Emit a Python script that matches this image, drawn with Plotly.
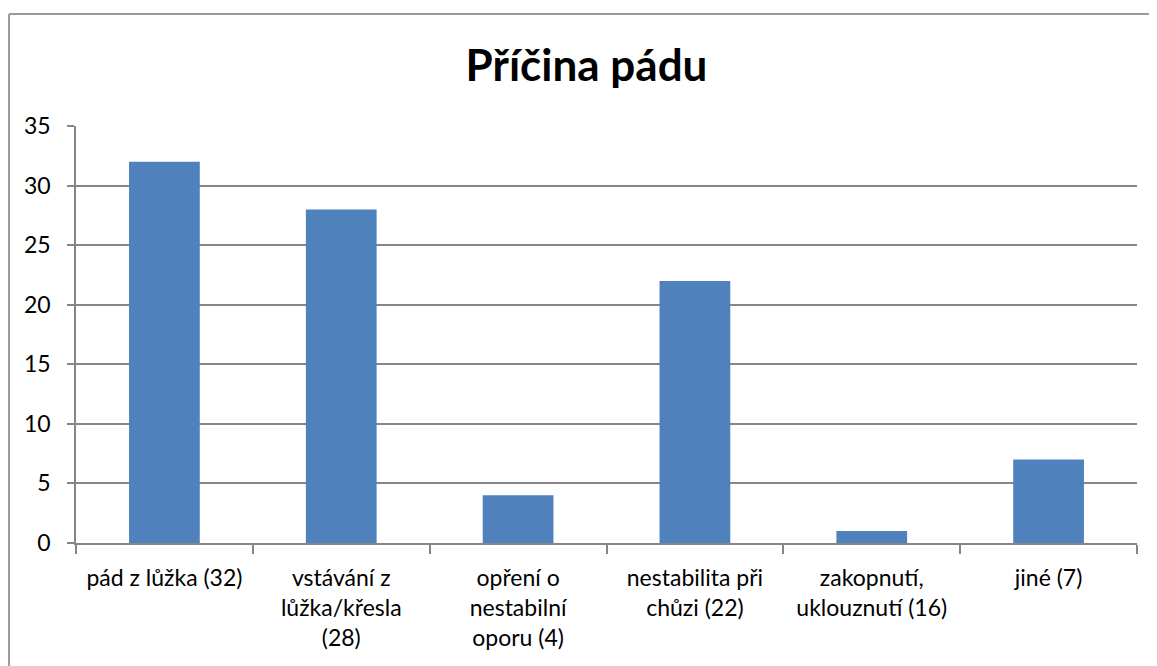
import plotly.graph_objects as go

categories = [
    "pád z lůžka (32)",
    "vstávání z<br>lůžka/křesla<br>(28)",
    "opření o<br>nestabilní<br>oporu (4)",
    "nestabilita při<br>chůzi (22)",
    "zakopnutí,<br>uklouznutí (16)",
    "jiné (7)",
]
values = [32, 28, 4, 22, 1, 7]
y_ticks = [0, 5, 10, 15, 20, 25, 30, 35]

font_name = "Lato"
grey = "#868686"

fig = go.Figure()
fig.add_trace(go.Bar(x=categories, y=values, marker=dict(color="#4F81BD", line=dict(width=0))))

# page body has an 8px margin, so the figure is a bit smaller than the window
fig.update_layout(
    width=1149, height=658,
    margin=dict(l=68, r=20, t=118, b=123),
    paper_bgcolor="white", plot_bgcolor="white",
    bargap=0.6,
    showlegend=False,
    font=dict(family=font_name, size=23, color="black"),
    title=dict(text="<b>Příčina pádu</b>", x=0.5035, xanchor="center", y=0.912, yanchor="middle",
               font=dict(family=font_name, size=44, color="black")),
    shapes=[
        dict(type="line", xref="paper", yref="paper", x0=-0.0631, x1=1.1, y0=1.2686, y1=1.2686,
             line=dict(color="#9a9a9a", width=2)),
        dict(type="line", xref="paper", yref="paper", x0=-0.0631, x1=-0.0631, y0=1.2686, y1=-0.4,
             line=dict(color="#9a9a9a", width=2)),
    ],
)
fig.update_xaxes(
    showline=True, linecolor=grey, linewidth=1.5,
    ticks="outside", tickson="boundaries", ticklen=9, tickcolor=grey, tickwidth=1.5,
    showgrid=False, tickangle=0, ticklabelstandoff=14,
)
fig.update_yaxes(
    range=[0, 35], tickvals=y_ticks,
    showline=True, linecolor=grey, linewidth=1.5,
    ticks="outside", ticklen=7, tickcolor=grey, tickwidth=1.5,
    showgrid=True, gridcolor=grey, gridwidth=1.5,
    ticklabelstandoff=12, zeroline=False,
)

fig.write_html("out.html")
